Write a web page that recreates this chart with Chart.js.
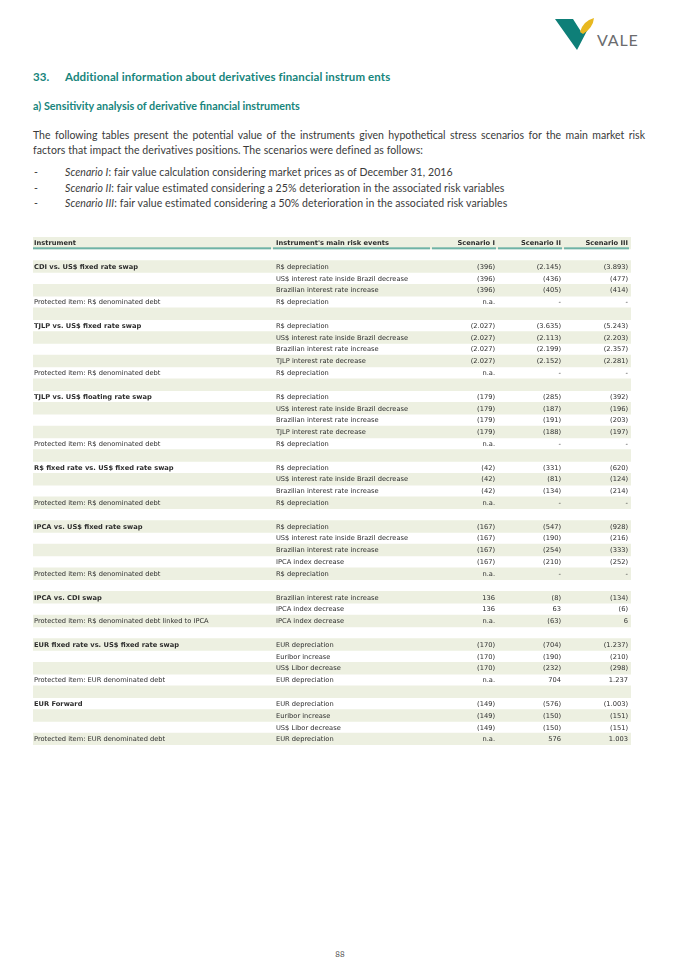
<!DOCTYPE html>
<html>
<head>
<meta charset="utf-8">
<title>Sensitivity analysis of derivative financial instruments</title>
<script src="https://cdn.jsdelivr.net/npm/chart.js@4.4.1/dist/chart.umd.min.js"></script>
<style>
  html, body { margin: 0; padding: 0; background: #fff; }
  body { width: 680px; height: 961px; position: relative; overflow: hidden; font-family: Lato, "Open Sans", sans-serif; color: #3a3a3a; }
  .abs { position: absolute; white-space: nowrap; }
  .teal { color: #17857c; font-weight: bold; }
  .para { font-size: 10.5px; line-height: 12px; letter-spacing: 0.08px; }
  .para i { font-style: italic; }
</style>
</head>
<body>

<!-- logo -->
<svg class="abs" style="left:540px;top:5px" width="110" height="55" viewBox="540 5 110 55">
  <path d="M555,19 L573,19 Q578,27 582,33 L590,25 L577,50 Z" fill="#0e7f78"/>
  <path d="M580,32 Q583,21 594,18 Q593,28 583,34 Z" fill="#e8b820"/>
  <text x="597" y="46" font-family="Lato, 'DejaVu Sans', sans-serif" font-size="16" letter-spacing="0.8" fill="#6b6c6e">VALE</text>
</svg>

<div class="abs teal" style="left:33px;top:70px;font-size:11.5px;letter-spacing:0.1px">33.</div>
<div class="abs teal" style="left:65px;top:70px;font-size:11.5px;letter-spacing:0.1px">Additional information about derivatives financial instrum ents</div>
<div class="abs teal" style="left:33px;top:99px;font-size:10.8px">a) Sensitivity analysis of derivative financial instruments</div>

<div class="abs para" style="left:33px;top:129px;width:612px;text-align:justify;text-align-last:justify;white-space:normal;letter-spacing:0">The following tables present the potential value of the instruments given hypothetical stress scenarios for the main market risk</div>
<div class="abs para" style="left:33px;top:144px">factors that impact the derivatives positions. The scenarios were defined as follows:</div>

<div class="abs para" style="left:34px;top:166px">-</div>
<div class="abs para" style="left:65px;top:166px"><i>Scenario I</i>: fair value calculation considering market prices as of December 31, 2016</div>
<div class="abs para" style="left:34px;top:182px">-</div>
<div class="abs para" style="left:65px;top:182px"><i>Scenario II</i>: fair value estimated considering a 25% deterioration in the associated risk variables</div>
<div class="abs para" style="left:34px;top:197px">-</div>
<div class="abs para" style="left:65px;top:197px"><i>Scenario III</i>: fair value estimated considering a 50% deterioration in the associated risk variables</div>

<div class="abs" style="left:0;top:230px;width:680px;height:520px">
  <canvas id="sensChart" width="680" height="520" style="width:680px;height:520px"></canvas>
</div>

<div class="abs" style="left:0;width:680px;top:949px;text-align:center;font-size:8px;color:#555">88</div>

<script>
// ======== Data ========
const columnHeaders = ['Instrument', "Instrument's main risk events", 'Scenario I', 'Scenario II', 'Scenario III'];

const instruments = [
  '',
  'CDI vs. US$ fixed rate swap', '', '', 'Protected item: R$ denominated debt', '',
  'TJLP vs. US$ fixed rate swap', '', '', '', 'Protected item: R$ denominated debt', '',
  'TJLP vs. US$ floating rate swap', '', '', '', 'Protected item: R$ denominated debt', '',
  'R$ fixed rate vs. US$ fixed rate swap', '', '', 'Protected item: R$ denominated debt', '',
  'IPCA vs. US$ fixed rate swap', '', '', '', 'Protected item: R$ denominated debt', '',
  'IPCA vs. CDI swap', '', 'Protected item: R$ denominated debt linked to IPCA', '',
  'EUR fixed rate vs. US$ fixed rate swap', '', '', 'Protected item: EUR denominated debt', '',
  'EUR Forward', '', '', 'Protected item: EUR denominated debt'
];

const riskEvents = [
  '',
  'R$ depreciation', 'US$ interest rate inside Brazil decrease', 'Brazilian interest rate increase', 'R$ depreciation', '',
  'R$ depreciation', 'US$ interest rate inside Brazil decrease', 'Brazilian interest rate increase', 'TJLP interest rate decrease', 'R$ depreciation', '',
  'R$ depreciation', 'US$ interest rate inside Brazil decrease', 'Brazilian interest rate increase', 'TJLP interest rate decrease', 'R$ depreciation', '',
  'R$ depreciation', 'US$ interest rate inside Brazil decrease', 'Brazilian interest rate increase', 'R$ depreciation', '',
  'R$ depreciation', 'US$ interest rate inside Brazil decrease', 'Brazilian interest rate increase', 'IPCA index decrease', 'R$ depreciation', '',
  'Brazilian interest rate increase', 'IPCA index decrease', 'IPCA index decrease', '',
  'EUR depreciation', 'Euribor increase', 'US$ Libor decrease', 'EUR depreciation', '',
  'EUR depreciation', 'Euribor increase', 'US$ Libor decrease', 'EUR depreciation'
];

// null = n.a., 0 = "-" (blank rows are the ones with no risk event)
const scenarioI = [
  null,
  -396, -396, -396, null, null,
  -2027, -2027, -2027, -2027, null, null,
  -179, -179, -179, -179, null, null,
  -42, -42, -42, null, null,
  -167, -167, -167, -167, null, null,
  136, 136, null, null,
  -170, -170, -170, null, null,
  -149, -149, -149, null
];

const scenarioII = [
  null,
  -2145, -436, -405, 0, null,
  -3635, -2113, -2199, -2152, 0, null,
  -285, -187, -191, -188, 0, null,
  -331, -81, -134, 0, null,
  -547, -190, -254, -210, 0, null,
  -8, 63, -63, null,
  -704, -190, -232, 704, null,
  -576, -150, -150, 576
];

const scenarioIII = [
  null,
  -3893, -477, -414, 0, null,
  -5243, -2203, -2357, -2281, 0, null,
  -392, -196, -203, -197, 0, null,
  -620, -124, -214, 0, null,
  -928, -216, -333, -252, 0, null,
  -134, -6, 6, null,
  -1237, -210, -298, 1237, null,
  -1003, -151, -151, 1003
];

// ======== Layout / Style ========
const FONT_SIZE = 6.7;
const FONT_FAMILY = '"DejaVu Sans", Verdana, sans-serif';
const BAND_COLOR = '#edf0e1';
const RULE_COLOR = '#6fb3a6';
const TEXT_COLOR = '#2e2e2e';
// column edges on a 0-100 scale across the table width
const COLUMN_EDGES = [0, 40.13, 66.72, 77.76, 88.8, 100];

// ======== Helper Functions ========
function formatValue(v) {
  if (v === null) return 'n.a.';
  if (v === 0) return '-';
  const s = Math.abs(v).toString().replace(/\B(?=(\d{3})+(?!\d))/g, '.');
  return v < 0 ? '(' + s + ')' : s;
}

// row 0 is the header, then one row per entry of the data arrays
const rowLabels = ['header'].concat(riskEvents.map((_, i) => 'r' + (i + 1)));
const bandData = rowLabels.map((_, i) => (i % 2 === 0 ? [0, 100] : null));

// ======== Table text plugin ========
const tableText = {
  id: 'tableText',
  afterDatasetsDraw(chart) {
    const { ctx, scales: { x, y } } = chart;
    const rowH = y.getPixelForValue(1) - y.getPixelForValue(0);
    const colLeft = i => x.getPixelForValue(COLUMN_EDGES[i]);
    const colRight = i => x.getPixelForValue(COLUMN_EDGES[i + 1]);

    ctx.save();
    ctx.textBaseline = 'middle';
    ctx.fillStyle = TEXT_COLOR;

    // header
    const hy = y.getPixelForValue(0) + 0.5;
    ctx.font = 'bold ' + FONT_SIZE + 'px ' + FONT_FAMILY;
    ctx.textAlign = 'left';
    ctx.fillText(columnHeaders[0], colLeft(0) + 1, hy);
    ctx.fillText(columnHeaders[1], colLeft(1) + 3, hy);
    ctx.textAlign = 'right';
    for (let c = 2; c < 5; c++) ctx.fillText(columnHeaders[c], colRight(c) - 3, hy);

    // header underline, one segment per column
    ctx.fillStyle = RULE_COLOR;
    const ly = y.getPixelForValue(0) + rowH / 2 - 1.5;
    for (let c = 0; c < 5; c++) {
      ctx.fillRect(colLeft(c), ly, colRight(c) - colLeft(c) - 2, 2);
    }

    // body rows
    ctx.fillStyle = TEXT_COLOR;
    riskEvents.forEach((ev, i) => {
      if (!ev) return;
      const ry = y.getPixelForValue(i + 1) + 0.5;
      const inst = instruments[i];
      ctx.textAlign = 'left';
      if (inst) {
        const bold = inst.indexOf('Protected') !== 0;
        ctx.font = (bold ? 'bold ' : '') + FONT_SIZE + 'px ' + FONT_FAMILY;
        ctx.fillText(inst, colLeft(0) + 1, ry);
      }
      ctx.font = FONT_SIZE + 'px ' + FONT_FAMILY;
      ctx.fillText(ev, colLeft(1) + 3, ry);
      ctx.textAlign = 'right';
      [scenarioI, scenarioII, scenarioIII].forEach((series, k) => {
        ctx.fillText(formatValue(series[i]), colRight(k + 2) - 3, ry);
      });
    });

    ctx.restore();
  }
};

// ======== Chart ========
const sensChartEl = document.getElementById('sensChart').getContext('2d');

new Chart(sensChartEl, {
  type: 'bar',
  data: {
    labels: rowLabels,
    datasets: [{
      label: 'bands',
      data: bandData,
      backgroundColor: BAND_COLOR,
      borderWidth: 0,
      barPercentage: 1,
      categoryPercentage: 1
    }]
  },
  options: {
    indexAxis: 'y',
    responsive: false,
    devicePixelRatio: 1,
    animation: false,
    events: [],
    layout: { padding: { top: 7, bottom: 5, left: 33, right: 49 } },
    plugins: { legend: { display: false }, tooltip: { enabled: false } },
    scales: {
      x: { type: 'linear', min: 0, max: 100, display: false },
      y: { type: 'category', display: false, offset: true }
    }
  },
  plugins: [tableText]
});
</script>
</body>
</html>
